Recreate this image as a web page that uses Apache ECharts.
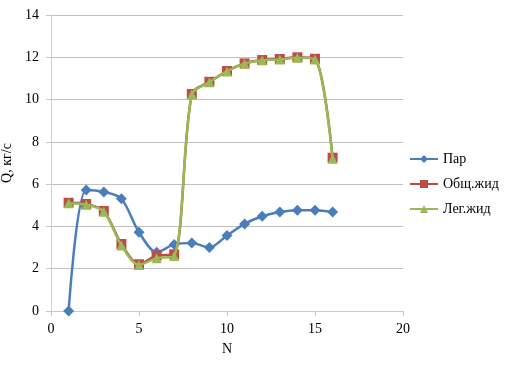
<!DOCTYPE html>
<html>
<head>
<meta charset="utf-8">
<script src="https://cdn.jsdelivr.net/npm/echarts@6/dist/echarts.min.js"></script>
<style>html,body{margin:0;padding:0;background:#fff;}#c{width:511px;height:365px;}</style>
</head>
<body>
<div id="c"></div>
<script>
var N = [1,2,3,4,5,6,7,8,9,10,11,12,13,14,15,16];
var par = [0,5.72,5.63,5.31,3.73,2.78,3.15,3.22,3.0,3.57,4.12,4.48,4.68,4.76,4.76,4.68];
var obsh = [5.12,5.06,4.73,3.17,2.21,2.62,2.68,10.26,10.84,11.35,11.71,11.87,11.92,12.0,11.93,7.25];
var leg = [5.1,5.03,4.7,3.1,2.18,2.5,2.6,10.24,10.82,11.33,11.7,11.86,11.9,11.98,11.9,7.2];
var names = ['Пар','Общ.жид','Лег.жид'];
var xTicks = [0,5,10,15,20];
var yTicks = [0,2,4,6,8,10,12,14];

function pairs(v){ return N.map(function(n,i){ return [n, v[i]]; }); }
var font = 'Liberation Serif';
var chart = echarts.init(document.getElementById('c'), null, {renderer:'canvas'});
chart.setOption({
  animation:false,
  grid:{left:51,right:108,top:15,bottom:54,containLabel:false,outerBoundsMode:'none'},
  xAxis:{type:'value',min:xTicks[0],max:xTicks[xTicks.length-1],interval:5,
    name:'N',nameLocation:'middle',nameGap:31,
    nameTextStyle:{fontFamily:font,fontSize:14,color:'#000'},
    axisLine:{lineStyle:{color:'#c8c8c8'}},
    axisTick:{show:true,length:5,lineStyle:{color:'#c8c8c8'}},
    axisLabel:{fontFamily:font,fontSize:14,color:'#000',margin:11},
    splitLine:{show:false}},
  yAxis:{type:'value',min:yTicks[0],max:yTicks[yTicks.length-1],interval:2,
    name:'Q, кг/с',nameLocation:'middle',nameGap:35,nameRotate:90,
    nameTextStyle:{fontFamily:font,fontSize:14,color:'#000'},
    axisLine:{show:true,lineStyle:{color:'#d0d0d0'}},
    axisTick:{show:true,length:5,lineStyle:{color:'#c8c8c8'}},
    axisLabel:{fontFamily:font,fontSize:14,color:'#000',margin:12},
    splitLine:{lineStyle:{color:'#c0c0c0'}}},
  legend:{orient:'vertical',left:404,top:147,itemWidth:28,itemHeight:10,itemGap:11,
    textStyle:{fontFamily:font,fontSize:14,color:'#000'},
    data:names},
  series:[
    {name:names[0],type:'line',data:pairs(par),smooth:0.3,symbol:'diamond',symbolSize:11,
      lineStyle:{color:'#4a7ebb',width:2.5},itemStyle:{color:'#4a7ebb'},z:3},
    {name:names[1],type:'line',data:pairs(obsh),smooth:0.3,symbol:'rect',symbolSize:10,
      lineStyle:{color:'#be4b48',width:2.5},itemStyle:{color:'#be4b48'},z:4},
    {name:names[2],type:'line',data:pairs(leg),smooth:0.3,symbol:'triangle',symbolSize:10,
      lineStyle:{color:'#98b954',width:2.5},itemStyle:{color:'#98b954'},z:5}
  ]
});
</script>
</body>
</html>
